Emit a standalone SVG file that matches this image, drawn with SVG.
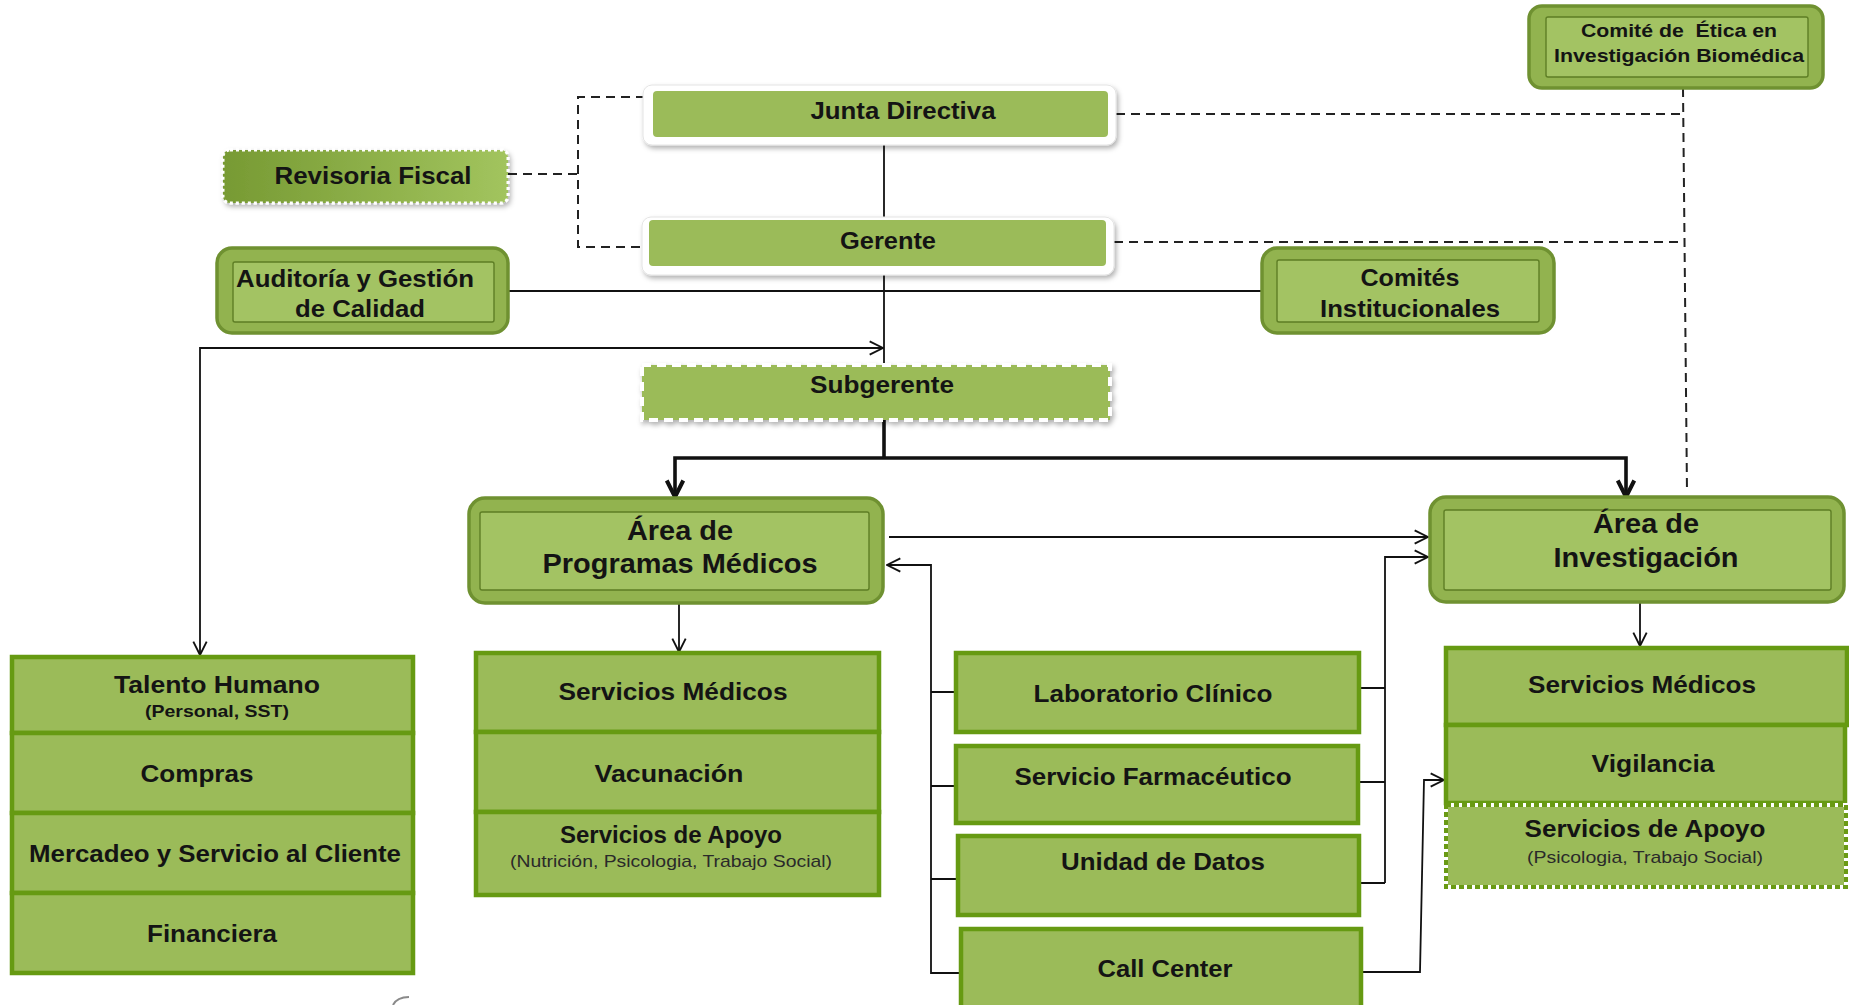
<svg xmlns="http://www.w3.org/2000/svg" width="1849" height="1005" viewBox="0 0 1849 1005">
<style>
text{font-family:"Liberation Sans",Arial,sans-serif;font-weight:bold;fill:#141414;text-anchor:middle}
.sub{font-weight:normal;fill:#2a2a2a}
.sq{fill:#9BBB59;stroke:#669a12;stroke-width:4.5}
.bevo{fill:#92b34f;stroke:#6f9131;stroke-width:3.5}
.bevi{fill:#a3c363;stroke:#5e7e25;stroke-width:1.4}
.wht{fill:#ffffff;stroke:#e4e4e4;stroke-width:1}
.grn{fill:#9BBB59}
.ln{fill:none;stroke:#111;stroke-width:1.8}
.thk{fill:none;stroke:#111;stroke-width:3.6}
.dash{fill:none;stroke:#222;stroke-width:2;stroke-dasharray:9 6}
</style>
<defs>
<marker id="ar" viewBox="0 0 12 12" refX="11" refY="6" markerWidth="16" markerHeight="16" markerUnits="userSpaceOnUse" orient="auto-start-reverse">
<path d="M1,1 L11,6 L1,11" fill="none" stroke="#111" stroke-width="1.4"/>
</marker>
<marker id="at" viewBox="0 0 12 12" refX="10.5" refY="6" markerWidth="22" markerHeight="22" markerUnits="userSpaceOnUse" orient="auto-start-reverse">
<path d="M1.5,1.5 L10.5,6 L1.5,10.5" fill="none" stroke="#111" stroke-width="2.2"/>
</marker>
<linearGradient id="rev" x1="0" y1="0" x2="1" y2="0">
<stop offset="0" stop-color="#779a33"/>
<stop offset="1" stop-color="#a2c45e"/>
</linearGradient>
<filter id="sh" x="-10%" y="-20%" width="120%" height="150%">
<feDropShadow dx="2" dy="3" stdDeviation="2.5" flood-color="#000" flood-opacity="0.3"/>
</filter>
</defs>

<g id="connectors">
<path class="ln" d="M884,145 V217" stroke-width="2.8"/>
<path class="ln" d="M884,275 V365" stroke-width="2.8"/>
<path class="ln" d="M508,291 H1262"/>
<path class="ln" d="M883,348 H200 V655" marker-start="url(#ar)" marker-end="url(#ar)"/>
<path class="thk" d="M884,420 V458"/>
<path class="thk" d="M675,497 V458 H1626 V497" marker-start="url(#at)" marker-end="url(#at)"/>
<path class="dash" d="M508,174 H578"/>
<path class="dash" d="M645,97 H578 V247 H642"/>
<path class="dash" d="M1116,114 H1684"/>
<path class="dash" d="M1114,242 H1682"/>
<path class="dash" d="M1683,88 L1687,492"/>
<path class="ln" d="M889,537 H1428" marker-end="url(#ar)"/>
<path class="ln" d="M679,603 V652" marker-end="url(#ar)"/>
<path class="ln" d="M1640,602 V646" marker-end="url(#ar)"/>
<path class="ln" d="M887,565 H931 V973 H961" marker-start="url(#ar)"/>
<path class="ln" d="M931,692 H956 M931,786 H956 M931,879 H958"/>
<path class="ln" d="M1359,688 H1385 M1358,782 H1385 M1359,883 H1385"/>
<path class="ln" d="M1385,883 V557 H1428" marker-end="url(#ar)"/>
<path class="ln" d="M1361,972 H1420 L1424,780 H1444" marker-end="url(#ar)"/>
</g>

<g id="comite-etica">
<rect class="bevo" x="1529" y="6" width="294" height="82" rx="13"/>
<rect class="bevi" x="1546" y="17" width="262" height="60" rx="2"/>
<text x="1679" y="37" font-size="19" textLength="196" lengthAdjust="spacingAndGlyphs" xml:space="preserve">Comité de  Ética en</text>
<text x="1679" y="62" font-size="19" textLength="250" lengthAdjust="spacingAndGlyphs">Investigación Biomédica</text>
</g>

<g id="junta">
<rect class="wht" x="643" y="85" width="473" height="60" rx="9" filter="url(#sh)"/>
<rect class="grn" x="653" y="91" width="455" height="46" rx="4"/>
<text x="903" y="119" font-size="24" textLength="185" lengthAdjust="spacingAndGlyphs">Junta Directiva</text>
</g>

<g id="revisoria">
<rect x="223" y="150" width="285" height="53" rx="7" fill="url(#rev)" stroke="#ffffff" stroke-width="3" stroke-dasharray="3 3" filter="url(#sh)"/>
<text x="373" y="184" font-size="24" textLength="197" lengthAdjust="spacingAndGlyphs">Revisoria Fiscal</text>
</g>

<g id="gerente">
<rect class="wht" x="642" y="217" width="472" height="58" rx="9" filter="url(#sh)"/>
<rect class="grn" x="649" y="220" width="457" height="46" rx="4"/>
<text x="888" y="249" font-size="24" textLength="96" lengthAdjust="spacingAndGlyphs">Gerente</text>
</g>

<g id="auditoria">
<rect class="bevo" x="217" y="248" width="291" height="85" rx="15"/>
<rect class="bevi" x="233" y="262" width="261" height="60" rx="2"/>
<text x="355" y="287" font-size="24" textLength="238" lengthAdjust="spacingAndGlyphs">Auditoría y Gestión</text>
<text x="360" y="317" font-size="24" textLength="130" lengthAdjust="spacingAndGlyphs">de Calidad</text>
</g>

<g id="comites">
<rect class="bevo" x="1262" y="248" width="292" height="85" rx="15"/>
<rect class="bevi" x="1277" y="260" width="262" height="62" rx="2"/>
<text x="1410" y="286" font-size="24" textLength="99" lengthAdjust="spacingAndGlyphs">Comités</text>
<text x="1410" y="317" font-size="24" textLength="180" lengthAdjust="spacingAndGlyphs">Institucionales</text>
</g>

<g id="subgerente">
<rect x="642" y="365" width="468" height="55" fill="#9BBB59" stroke="#ffffff" stroke-width="4" stroke-dasharray="9 6" filter="url(#sh)"/>
<text x="882" y="393" font-size="24" textLength="144" lengthAdjust="spacingAndGlyphs">Subgerente</text>
</g>

<g id="area-programas">
<rect class="bevo" x="469" y="498" width="414" height="105" rx="16"/>
<rect class="bevi" x="480" y="512" width="389" height="78" rx="2"/>
<text x="680" y="540" font-size="27" textLength="106" lengthAdjust="spacingAndGlyphs">Área de</text>
<text x="680" y="573" font-size="27" textLength="275" lengthAdjust="spacingAndGlyphs">Programas Médicos</text>
</g>

<g id="area-investigacion">
<rect class="bevo" x="1430" y="497" width="414" height="105" rx="16"/>
<rect class="bevi" x="1444" y="510" width="387" height="80" rx="2"/>
<text x="1646" y="533" font-size="27" textLength="106" lengthAdjust="spacingAndGlyphs">Área de</text>
<text x="1646" y="567" font-size="27" textLength="185" lengthAdjust="spacingAndGlyphs">Investigación</text>
</g>

<g id="talento-humano">
<rect class="sq" x="12" y="657" width="401" height="76"/>
<text x="217" y="693" font-size="23.5" textLength="206" lengthAdjust="spacingAndGlyphs">Talento Humano</text>
<text x="217" y="717" font-size="16.5" textLength="144" lengthAdjust="spacingAndGlyphs">(Personal, SST)</text>
</g>
<g id="compras">
<rect class="sq" x="12" y="733" width="401" height="80"/>
<text x="197" y="782" font-size="23.5" textLength="113" lengthAdjust="spacingAndGlyphs">Compras</text>
</g>
<g id="mercadeo">
<rect class="sq" x="12" y="813" width="401" height="80"/>
<text x="215" y="862" font-size="23.5" textLength="372" lengthAdjust="spacingAndGlyphs">Mercadeo y Servicio al Cliente</text>
</g>
<g id="financiera">
<rect class="sq" x="12" y="893" width="401" height="80"/>
<text x="212" y="942" font-size="23.5" textLength="130" lengthAdjust="spacingAndGlyphs">Financiera</text>
</g>

<g id="servicios-medicos-1">
<rect class="sq" x="476" y="653" width="403" height="79"/>
<text x="673" y="700" font-size="23.5" textLength="229" lengthAdjust="spacingAndGlyphs">Servicios Médicos</text>
</g>
<g id="vacunacion">
<rect class="sq" x="476" y="732" width="403" height="80"/>
<text x="669" y="782" font-size="23.5" textLength="149" lengthAdjust="spacingAndGlyphs">Vacunación</text>
</g>
<g id="servicios-apoyo-1">
<rect class="sq" x="476" y="812" width="403" height="83"/>
<text x="671" y="843" font-size="23.5" textLength="222" lengthAdjust="spacingAndGlyphs">Servicios de Apoyo</text>
<text class="sub" x="671" y="867" font-size="17" textLength="322" lengthAdjust="spacingAndGlyphs">(Nutrición, Psicologia, Trabajo Social)</text>
</g>

<g id="laboratorio">
<rect class="sq" x="956" y="653" width="403" height="79"/>
<text x="1153" y="702" font-size="23.5" textLength="239" lengthAdjust="spacingAndGlyphs">Laboratorio Clínico</text>
</g>
<g id="farmaceutico">
<rect class="sq" x="956" y="746" width="402" height="77"/>
<text x="1153" y="785" font-size="23.5" textLength="277" lengthAdjust="spacingAndGlyphs">Servicio Farmacéutico</text>
</g>
<g id="unidad-datos">
<rect class="sq" x="958" y="836" width="401" height="79"/>
<text x="1163" y="870" font-size="23.5" textLength="204" lengthAdjust="spacingAndGlyphs">Unidad de Datos</text>
</g>
<g id="call-center">
<rect class="sq" x="961" y="929" width="400" height="90"/>
<text x="1165" y="977" font-size="23.5" textLength="135" lengthAdjust="spacingAndGlyphs">Call Center</text>
</g>

<g id="servicios-medicos-2">
<rect class="sq" x="1446" y="648" width="401" height="77"/>
<text x="1642" y="693" font-size="23.5" textLength="228" lengthAdjust="spacingAndGlyphs">Servicios Médicos</text>
</g>
<g id="vigilancia">
<rect class="sq" x="1446" y="725" width="399" height="78"/>
<text x="1653" y="772" font-size="23.5" textLength="123" lengthAdjust="spacingAndGlyphs">Vigilancia</text>
</g>
<g id="servicios-apoyo-2">
<rect x="1446" y="805" width="400" height="82" fill="#9BBB59" stroke="#ffffff" stroke-width="4"/>
<rect x="1446" y="805" width="400" height="82" fill="none" stroke="#6a9a14" stroke-width="4" stroke-dasharray="5 3"/>
<text x="1645" y="837" font-size="23.5" textLength="241" lengthAdjust="spacingAndGlyphs">Servicios de Apoyo</text>
<text class="sub" x="1645" y="863" font-size="17" textLength="236" lengthAdjust="spacingAndGlyphs">(Psicologia, Trabajo Social)</text>
</g>

<path d="M393,1005 Q397,997 409,997" fill="none" stroke="#8a8a8a" stroke-width="2"/>
</svg>
